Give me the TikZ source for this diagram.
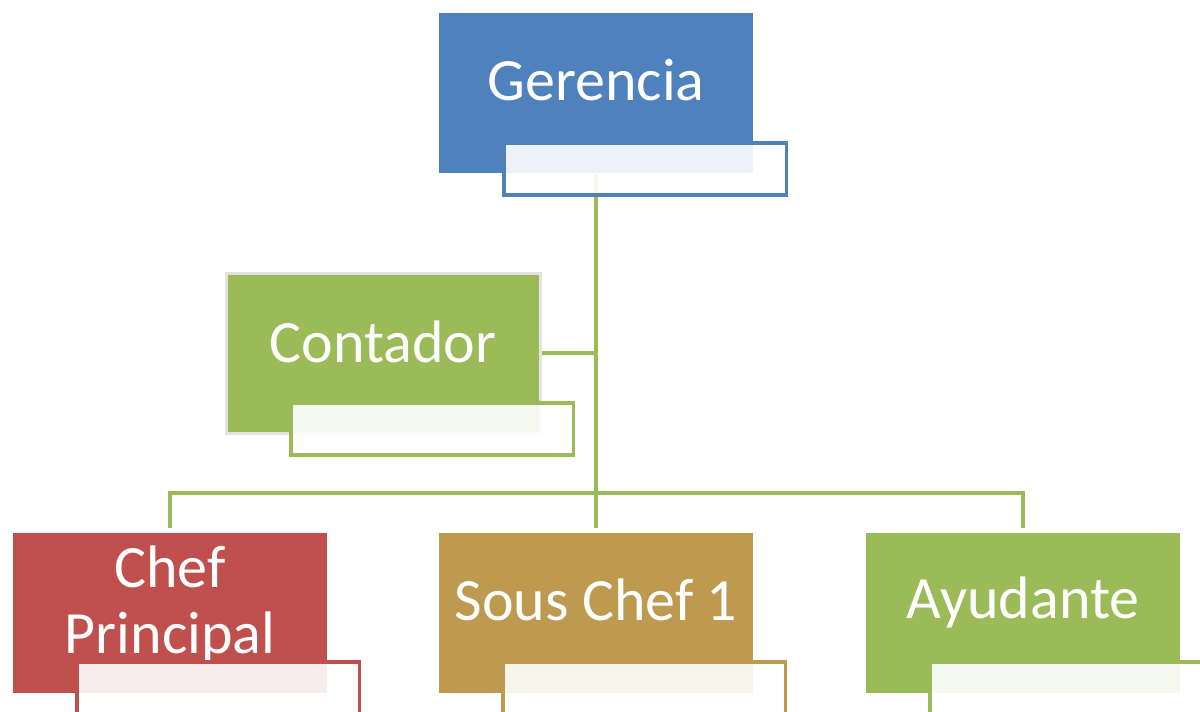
\documentclass[tikz,border=0pt]{standalone}
\usepackage{fontspec}
\setmainfont{Carlito}
\usetikzlibrary{backgrounds}

\definecolor{gerblue}{HTML}{4F81BD}
\definecolor{leafgreen}{HTML}{9BBB59}
\definecolor{chefred}{HTML}{C0504D}
\definecolor{sousgold}{HTML}{BE9A51}

\begin{document}
\begin{tikzpicture}[x=0.75pt,y=-0.75pt,
      box/.style={rectangle, inner sep=0pt, anchor=north west,
        minimum width=235.5pt, minimum height=120pt},
      subbox/.style={rectangle, inner sep=0pt, anchor=north west,
        fill=white, fill opacity=0.9, line width=2.8pt,
        minimum width=212pt, minimum height=39pt},
      title/.style={text=white, anchor=base, align=center,
        font=\fontsize{45}{49.5}\selectfont},
      link/.style={draw=leafgreen, line width=3pt}
    ]
    \useasboundingbox (0,0) rectangle (1200,711);
    \clip (0,0) rectangle (1200,711);

    % top
    \node[box, fill=gerblue] (ger) at (439,13) {};
    \node[title] (ger text) at (596,100) {Gerencia};
    \node[subbox, draw=gerblue] (ger sub) at (502,141) {};

    % assistant
    \node[box, fill=leafgreen, draw=black!11, line width=2.2pt] (con) at (225,272) {};
    \node[title] (con text) at (383,362) {Contador};
    \node[subbox, draw=leafgreen] (con sub) at (289,401) {};

    % children
    \node[box, fill=chefred] (chef) at (13,533) {};
    \node[title] (chef text) at (170,653) {Chef\\Principal};
    \node[subbox, draw=chefred] (chef sub) at (75,660) {};

    \node[box, fill=sousgold] (sous) at (439,533) {};
    \node[title] (sous text) at (596,620) {Sous Chef 1};
    \node[subbox, draw=sousgold] (sous sub) at (501,660) {};

    \node[box, fill=leafgreen] (ayu) at (866,533) {};
    \node[title] (ayu text) at (1023,618) {Ayudante};
    \node[subbox, draw=leafgreen] (ayu sub) at (928,660) {};

    \coordinate (bar) at (596,493);

    \begin{pgfonlayer}{background}
      \draw[link] (ger.south) -- ([yshift=3.75pt]sous.north);
      \draw[link] (con.east) -- (con.east -| ger.south);
      \draw[link] ([yshift=3.75pt]chef.north) |- (bar) -| ([yshift=3.75pt]ayu.north);
    \end{pgfonlayer}
\end{tikzpicture}
\end{document}
